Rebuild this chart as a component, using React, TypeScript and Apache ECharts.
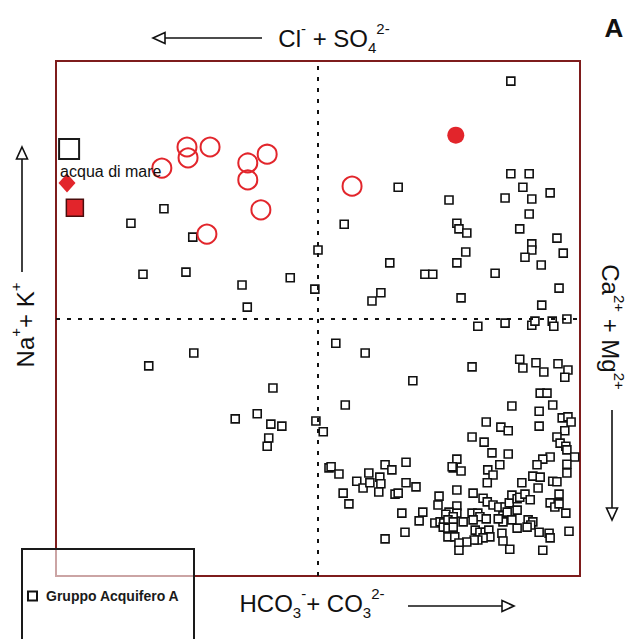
import React, { useEffect, useRef } from "react";
import * as echarts from "echarts";

const FONT = '"Liberation Sans", Arial, Helvetica, sans-serif';
const RED = "#e2252b";
const INK = "#111111";

// x: HCO3- + CO3 2- (% meq), y: Na+ + K+ (% meq)
const groupUpperLeft: [number, number][] = [
  [20.6, 71.3], [14.3, 68.5], [26.1, 65.8], [16.6, 58.6], [24.8, 59.0],
  [35.5, 56.5], [36.5, 52.2], [44.7, 57.9], [49.4, 55.7], [50.0, 63.3],
];

const groupUpperRight: [number, number][] = [
  [86.8, 96.1], [86.8, 78.1], [90.3, 78.1], [89.1, 75.5], [94.3, 74.4],
  [65.3, 75.5], [75.0, 73.0], [85.7, 73.4], [90.8, 73.2], [90.3, 70.3],
  [55.0, 68.3], [76.5, 68.5], [76.9, 67.4], [78.4, 66.6], [88.5, 67.4],
  [95.6, 65.6], [90.8, 64.5], [90.8, 63.3], [89.5, 61.9], [96.8, 62.7],
  [78.2, 62.9], [76.5, 60.8], [92.6, 60.4], [63.7, 60.8], [70.4, 58.6],
  [71.9, 58.6], [83.8, 58.8], [62.0, 55.0], [60.3, 53.4], [77.3, 54.0],
  [96.0, 55.9], [92.7, 52.6], [85.7, 49.1], [90.8, 48.7], [91.4, 49.5],
  [94.7, 49.5], [95.0, 48.5], [97.5, 49.9], [80.5, 48.5],
];

const groupLowerLeft: [number, number][] = [
  [26.3, 43.3], [17.7, 40.8], [41.4, 36.5], [34.2, 30.5], [38.4, 31.5],
  [41.0, 29.5], [43.1, 29.1], [40.6, 26.8], [40.3, 25.2], [49.6, 30.1],
];

const groupLowerRight: [number, number][] = [
  [51.0, 28.0], [52.1, 21.0], [53.4, 45.2], [59.0, 43.3], [79.4, 40.6],
  [68.1, 37.9], [55.2, 33.2], [88.5, 42.1], [89.1, 40.4], [91.6, 41.4],
  [93.1, 39.6], [95.8, 41.2], [97.7, 40.0], [97.1, 38.6], [92.4, 35.5],
  [93.7, 35.5], [87.0, 33.0], [94.8, 33.2], [92.2, 32.0], [96.6, 30.7],
  [97.7, 30.9], [98.3, 29.9], [92.2, 29.1], [82.1, 29.9], [84.9, 28.9],
  [86.3, 28.2], [97.1, 28.2], [79.4, 27.0], [81.7, 26.0], [95.6, 27.0],
  [96.2, 25.8], [97.3, 25.2], [83.2, 23.9], [86.3, 23.7], [97.5, 24.5],
  [94.3, 23.1], [92.9, 22.7], [91.8, 21.6], [99.0, 23.1], [97.5, 21.7],
  [97.5, 20.0], [84.7, 21.6], [76.5, 22.7], [75.8, 21.0], [77.3, 20.4],
  [82.4, 20.6], [83.4, 19.6], [82.3, 18.1], [91.0, 19.4], [92.4, 19.2],
  [94.8, 18.4], [95.6, 18.3], [88.9, 18.1], [92.0, 17.1], [96.0, 15.9],
  [76.5, 16.7], [79.6, 16.1], [81.5, 15.1], [82.3, 14.4], [83.4, 13.8],
  [84.5, 13.4], [85.7, 13.4], [86.5, 14.2], [87.0, 15.7], [88.0, 15.0],
  [88.5, 15.3], [89.5, 15.9], [90.5, 14.8], [88.0, 12.8], [94.3, 14.2],
  [95.2, 13.4], [96.0, 14.0], [97.3, 12.2], [73.1, 15.5], [72.9, 13.8],
  [76.5, 13.6], [75.0, 12.4], [74.4, 12.0], [76.5, 12.2], [75.8, 11.5],
  [72.3, 10.3], [73.3, 10.5], [74.0, 10.3], [74.8, 10.9], [75.8, 10.5],
  [77.7, 10.5], [73.9, 9.5], [74.8, 9.3], [75.8, 9.5], [79.4, 12.2],
  [80.5, 12.2], [80.9, 11.5], [79.6, 10.9], [82.1, 11.1], [85.3, 11.7],
  [86.1, 12.4], [87.0, 10.9], [85.3, 10.5], [84.4, 11.1], [90.1, 10.9],
  [91.0, 10.5], [90.6, 9.9], [89.9, 9.5], [88.0, 9.3], [92.2, 8.5],
  [94.1, 8.3], [94.3, 7.4], [97.9, 8.7], [80.0, 8.9], [80.9, 8.5],
  [81.9, 8.5], [82.6, 8.9], [82.8, 7.6], [81.5, 7.4], [80.5, 7.0],
  [79.8, 7.0], [78.4, 6.6], [85.1, 8.3], [85.3, 6.8], [86.6, 5.2],
  [92.9, 5.0], [74.8, 7.6], [76.1, 7.6], [76.9, 6.4], [76.9, 5.0],
  [66.0, 12.2], [70.0, 12.4], [69.3, 10.7], [66.6, 8.5], [62.8, 7.2],
  [52.5, 21.2], [54.0, 19.8], [54.8, 16.1], [55.9, 14.0], [57.4, 18.4],
  [58.6, 17.1], [59.7, 20.0], [59.9, 18.1], [61.8, 19.2], [62.0, 17.9],
  [61.6, 16.3], [62.8, 21.6], [64.1, 20.6], [66.8, 22.1], [66.8, 18.1],
  [68.7, 17.3], [64.7, 15.9], [65.3, 16.1], [75.6, 21.2],
];

const redOpenCircles: [number, number][] = [
  [20.2, 79.2], [25.0, 83.3], [25.2, 81.2], [29.4, 83.3], [36.6, 80.2],
  [40.3, 81.9], [36.6, 76.9], [39.1, 71.1], [28.8, 66.4], [56.5, 75.7],
];
const redFilledCircle: [number, number][] = [[76.3, 85.6]];
const seaWater: [number, number][] = [[2.5, 82.9]];
const redDiamond: [number, number][] = [[2.1, 76.3]];
const redSquare: [number, number][] = [[3.6, 71.5]];

const GROUP_NAME = "Gruppo Acquifero A";
const SEA_LABEL = "acqua di mare";

const textTop = "{m|Cl}{sup|-}{m| + SO}{sub|4}{sup|2-}";
const textBottom = "{m|HCO}{sub|3}{sup|-}{m|+ CO}{sub|3}{sup|2-}";
const textLeft = "{m|Na}{sup|+}{m|+ K}{sup|+}";
const textRight = "{m|Ca}{sup|2+}{m| + Mg}{sup|2+}";

const rich = {
  m: { fontSize: 24, fontFamily: FONT, fill: INK, lineHeight: 34, verticalAlign: "middle" },
  sup: { fontSize: 15, fontFamily: FONT, fill: INK, lineHeight: 22, verticalAlign: "top" },
  sub: { fontSize: 15, fontFamily: FONT, fill: INK, lineHeight: 18, verticalAlign: "bottom" },
};

function label(x: number, y: number, text: string, rotation = 0) {
  return {
    type: "text",
    x,
    y,
    rotation,
    z: 20,
    style: { text, rich, align: "center", verticalAlign: "middle" },
  };
}

function arrow(x1: number, y1: number, x2: number, y2: number) {
  // shaft from (x1,y1) to (x2,y2), open triangular head at (x2,y2)
  const dx = x2 - x1;
  const dy = y2 - y1;
  const len = Math.hypot(dx, dy);
  const ux = dx / len;
  const uy = dy / len;
  const hl = 12;
  const hw = 5.5;
  const bx = x2 - ux * hl;
  const by = y2 - uy * hl;
  return [
    {
      type: "line",
      z: 20,
      shape: { x1, y1, x2: bx, y2: by },
      style: { stroke: INK, lineWidth: 1.6 },
    },
    {
      type: "polygon",
      z: 20,
      shape: {
        points: [
          [x2, y2],
          [bx - uy * hw, by + ux * hw],
          [bx + uy * hw, by - ux * hw],
        ],
      },
      style: { fill: "#fff", stroke: INK, lineWidth: 1.6 },
    },
  ];
}

export default function App() {
  const ref = useRef<HTMLDivElement>(null);

  useEffect(() => {
    if (!ref.current) return;
    const chart = echarts.init(ref.current, undefined, { renderer: "svg" });

    const groupData = [
      ...groupUpperLeft,
      ...groupUpperRight,
      ...groupLowerLeft,
      ...groupLowerRight,
    ];

    chart.setOption({
      animation: false,
      backgroundColor: "#ffffff",
      grid: {
        left: 56,
        top: 61,
        width: 524,
        height: 515,
        show: true,
        borderColor: "#7e1c1c",
        borderWidth: 2,
        backgroundColor: "transparent",
      },
      xAxis: { type: "value", min: 0, max: 100, show: false },
      yAxis: { type: "value", min: 0, max: 100, show: false },
      legend: {
        data: [GROUP_NAME],
        left: 22,
        top: 584,
        z: 100,
        itemWidth: 9,
        itemHeight: 9,
        selectedMode: false,
        textStyle: {
          fontFamily: FONT,
          fontSize: 14,
          fontWeight: "bold",
          color: "#1a1a1a",
          padding: [0, 0, 0, 4],
        },
      },
      graphic: [
        {
          type: "rect",
          z: 50,
          shape: { x: 22, y: 549, width: 172, height: 110 },
          style: { fill: "rgba(255,255,255,0.6)", stroke: "#1a1a1a", lineWidth: 2 },
        },
        label(334, 38, textTop),
        ...arrow(262, 38, 153, 38),
        label(312, 603, textBottom),
        ...arrow(408, 606, 514, 606),
        label(25, 325, textLeft, Math.PI / 2),
        ...arrow(22, 272, 22, 147),
        label(610, 327, textRight, -Math.PI / 2),
        ...arrow(612, 410, 612, 520),
        {
          type: "text",
          x: 614,
          y: 28,
          z: 20,
          style: {
            text: "A",
            font: `bold 26px ${FONT}`,
            fill: INK,
            align: "center",
            verticalAlign: "middle",
          },
        },
      ],
      series: [
        {
          name: GROUP_NAME,
          type: "scatter",
          data: groupData,
          symbol: "rect",
          symbolSize: 8,
          itemStyle: { color: "#ffffff", borderColor: INK, borderWidth: 1.6, opacity: 1 },
          markLine: {
            silent: true,
            symbol: ["none", "none"],
            label: { show: false },
            lineStyle: { color: INK, width: 2, type: [4, 7] },
            data: [{ xAxis: 50 }, { yAxis: 50 }],
          },
          z: 3,
        },
        {
          name: "red-open",
          type: "scatter",
          data: redOpenCircles,
          symbol: "circle",
          symbolSize: 19,
          itemStyle: { color: "rgba(255,255,255,0)", borderColor: RED, borderWidth: 2, opacity: 1 },
          z: 4,
        },
        {
          name: "red-filled",
          type: "scatter",
          data: redFilledCircle,
          symbol: "circle",
          symbolSize: 17,
          itemStyle: { color: RED, opacity: 1 },
          z: 4,
        },
        {
          name: "sea",
          type: "scatter",
          data: seaWater,
          symbol: "rect",
          symbolSize: 20,
          itemStyle: { color: "#ffffff", borderColor: "#1a1a1a", borderWidth: 2, opacity: 1 },
          label: {
            show: true,
            formatter: SEA_LABEL,
            position: [2, 33],
            align: "left",
            verticalAlign: "middle",
            fontFamily: FONT,
            fontSize: 16,
            color: "#111",
          },
          z: 4,
        },
        {
          name: "red-diamond",
          type: "scatter",
          data: redDiamond,
          symbol: "diamond",
          symbolSize: [17, 19],
          itemStyle: { color: RED, opacity: 1 },
          z: 4,
        },
        {
          name: "red-square",
          type: "scatter",
          data: redSquare,
          symbol: "rect",
          symbolSize: 17,
          itemStyle: { color: RED, borderColor: "#4a0d0d", borderWidth: 1.5, opacity: 1 },
          z: 4,
        },
      ],
    });

    return () => chart.dispose();
  }, []);

  return (
    <div
      ref={ref}
      style={{ position: "fixed", left: 0, top: 0, width: 629, height: 639, background: "#fff" }}
    />
  );
}
